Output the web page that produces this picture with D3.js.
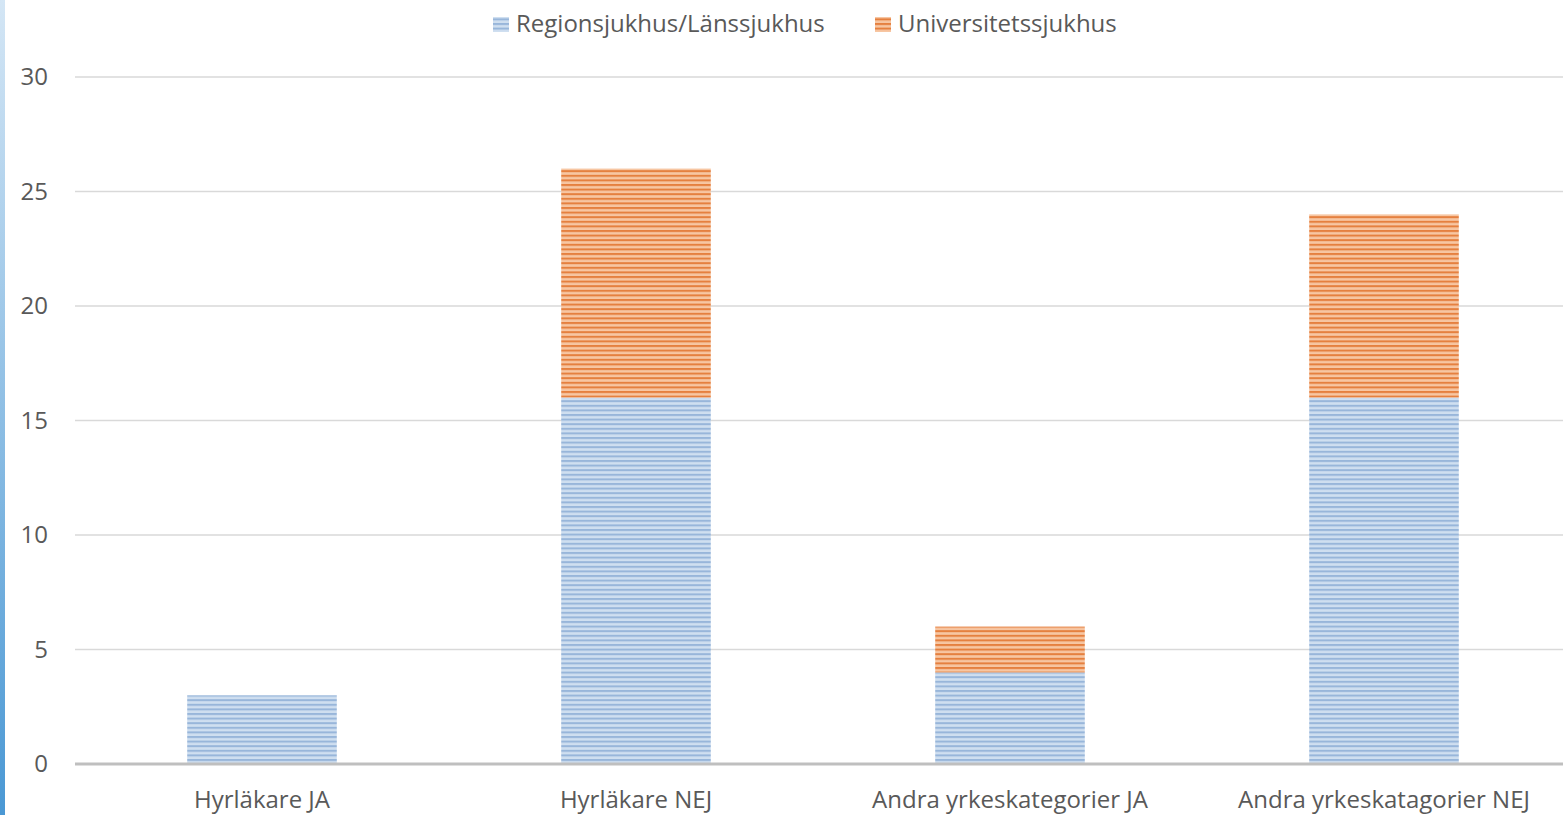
<!DOCTYPE html>
<html>
<head>
<meta charset="utf-8">
<script src="https://cdn.jsdelivr.net/npm/d3@7"></script>
<style>
  body { margin: 0; background: #fff; }
  svg { display: block; font-family: "Open Sans", "Liberation Sans", sans-serif; }
</style>
</head>
<body>
<script>
const width = 1563;
const height = 815;

const categories = ['Hyrläkare JA', 'Hyrläkare NEJ', 'Andra yrkeskategorier JA', 'Andra yrkeskatagorier NEJ'];
const seriesNames = ['Regionsjukhus/Länssjukhus', 'Universitetssjukhus'];
const regionValues = [3, 16, 4, 16];
const univValues = [0, 10, 2, 8];
const yTicks = [0, 5, 10, 15, 20, 25, 30];

const colors = [
  {dark: '#98b6da', light: '#cfdff0'},
  {dark: '#e5803f', light: '#f7c6a2'}
];

const table = categories.map((c, i) => ({cat: c, region: regionValues[i], univ: univValues[i]}));
const stack = d3.stack().keys(['region', 'univ'])(table);

const svg = d3.select('body').append('svg')
  .attr('width', width)
  .attr('height', height);

const defs = svg.append('defs');

// left edge gradient strip
const grad = defs.append('linearGradient')
  .attr('id', 'edge')
  .attr('x1', 0).attr('y1', 0).attr('x2', 0).attr('y2', 1);
grad.append('stop').attr('offset', '0%').attr('stop-color', '#d4e6f5');
grad.append('stop').attr('offset', '100%').attr('stop-color', '#4a98d4');
svg.append('rect').attr('x', 0).attr('y', 0).attr('width', 5).attr('height', height).attr('fill', 'url(#edge)');

// striped patterns
colors.forEach((c, i) => {
  const p = defs.append('pattern')
    .attr('id', 'stripe' + i)
    .attr('patternUnits', 'userSpaceOnUse')
    .attr('width', 8).attr('height', 4.6);
  p.append('rect').attr('width', 8).attr('height', 4.6).attr('fill', c.light);
  p.append('rect').attr('width', 8).attr('height', 2).attr('fill', c.dark);
});

const x = d3.scaleBand()
  .domain(categories)
  .range([75, 1571])
  .paddingInner(0.6)
  .paddingOuter(0.3);

const y = d3.scaleLinear()
  .domain([0, 30])
  .range([764, 77]);

// gridlines
svg.append('g')
  .selectAll('line')
  .data(yTicks.filter(t => t > 0))
  .join('line')
  .attr('x1', 75).attr('x2', width)
  .attr('y1', d => y(d)).attr('y2', d => y(d))
  .attr('stroke', '#d9d9d9')
  .attr('stroke-width', 1.3);

// y tick labels
svg.append('g')
  .selectAll('text')
  .data(yTicks)
  .join('text')
  .attr('x', 48)
  .attr('y', d => y(d))
  .attr('dy', '0.35em')
  .attr('text-anchor', 'end')
  .attr('fill', '#595959')
  .attr('font-size', 24)
  .text(d => d);

// bars
svg.append('g')
  .selectAll('g')
  .data(stack)
  .join('g')
  .attr('fill', (d, i) => 'url(#stripe' + i + ')')
  .selectAll('rect')
  .data(d => d.filter(s => s[1] > s[0]))
  .join('rect')
  .attr('x', d => x(d.data.cat))
  .attr('width', x.bandwidth())
  .attr('y', d => y(d[1]))
  .attr('height', d => y(d[0]) - y(d[1]));

// baseline
svg.append('line')
  .attr('x1', 75).attr('x2', width)
  .attr('y1', y(0)).attr('y2', y(0))
  .attr('stroke', '#bfbfbf')
  .attr('stroke-width', 3);

// category labels
svg.append('g')
  .selectAll('text')
  .data(categories)
  .join('text')
  .attr('x', d => x(d) + x.bandwidth() / 2)
  .attr('y', 800)
  .attr('dy', '0.35em')
  .attr('text-anchor', 'middle')
  .attr('fill', '#595959')
  .attr('font-size', 24)
  .text(d => d);

// legend
const legendX = [493, 875];
const legend = svg.append('g')
  .selectAll('g')
  .data(seriesNames)
  .join('g')
  .attr('transform', (d, i) => `translate(${legendX[i]},0)`);
legend.append('rect')
  .attr('x', 0).attr('y', 17)
  .attr('width', 16).attr('height', 15)
  .attr('fill', (d, i) => 'url(#stripe' + i + ')');
legend.append('text')
  .attr('x', 23).attr('y', 24)
  .attr('dy', '0.35em')
  .attr('fill', '#595959')
  .attr('font-size', 24)
  .text(d => d);
</script>
</body>
</html>
